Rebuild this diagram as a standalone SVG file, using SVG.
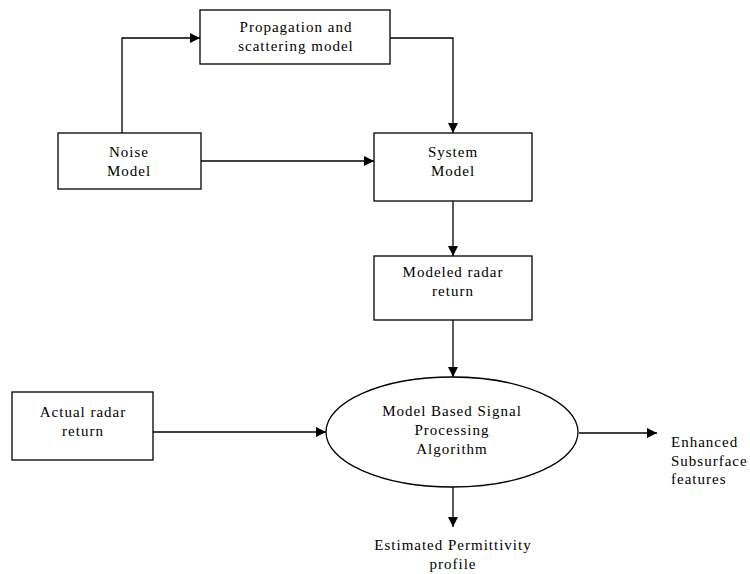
<svg xmlns="http://www.w3.org/2000/svg" width="750" height="574" viewBox="0 0 750 574">
<defs>
<marker id="ah" viewBox="0 0 10 10" refX="10" refY="5" markerWidth="10" markerHeight="10" markerUnits="userSpaceOnUse" orient="auto">
<path d="M0,0 L10,5 L0,10 z" fill="#000"/>
</marker>
<style>
.box{fill:#fff;stroke:#000;stroke-width:1.3}
.t{font-family:'Liberation Serif','DejaVu Serif',serif;font-size:15px;letter-spacing:1px;fill:#000;text-anchor:middle}
.tl{font-family:'Liberation Serif','DejaVu Serif',serif;font-size:15px;letter-spacing:1px;fill:#000}
.c{fill:none;stroke:#000;stroke-width:1.3}
</style>
</defs>
<rect width="750" height="574" fill="#fff"/>
<g id="connectors">
<polyline class="c" points="122,133 122,38 200,38" marker-end="url(#ah)"/>
<polyline class="c" points="390,38 453,38 453,133" marker-end="url(#ah)"/>
<line class="c" x1="201" y1="161" x2="374" y2="161" marker-end="url(#ah)"/>
<line class="c" x1="453" y1="201" x2="453" y2="256" marker-end="url(#ah)"/>
<line class="c" x1="453" y1="320" x2="453" y2="377" marker-end="url(#ah)"/>
<line class="c" x1="153" y1="432" x2="326" y2="432" marker-end="url(#ah)"/>
<line class="c" x1="579" y1="433" x2="657" y2="433" marker-end="url(#ah)"/>
<line class="c" x1="453" y1="487" x2="453" y2="527" marker-end="url(#ah)"/>
</g>
<g id="propagation">
<rect class="box" x="200" y="10" width="190" height="54"/>
<text class="t" x="296" y="32">Propagation and</text>
<text class="t" x="296" y="51">scattering model</text>
</g>
<g id="noise">
<rect class="box" x="58" y="133" width="143" height="56"/>
<text class="t" x="129" y="157">Noise</text>
<text class="t" x="129" y="176">Model</text>
</g>
<g id="system">
<rect class="box" x="374" y="133" width="158" height="68"/>
<text class="t" x="453" y="157">System</text>
<text class="t" x="453" y="176">Model</text>
</g>
<g id="modeled">
<rect class="box" x="374" y="256" width="158" height="64"/>
<text class="t" x="453" y="277">Modeled radar</text>
<text class="t" x="453" y="296">return</text>
</g>
<g id="actual">
<rect class="box" x="12" y="392" width="141" height="68"/>
<text class="t" x="83" y="417">Actual radar</text>
<text class="t" x="83" y="436">return</text>
</g>
<g id="algorithm">
<ellipse class="box" cx="452" cy="432" rx="126" ry="55" stroke-width="1"/>
<text class="t" x="452" y="416">Model Based Signal</text>
<text class="t" x="452" y="435">Processing</text>
<text class="t" x="452" y="454">Algorithm</text>
</g>
<g id="enhanced">
<text class="tl" x="671" y="447">Enhanced</text>
<text class="tl" x="671" y="466">Subsurface</text>
<text class="tl" x="671" y="484">features</text>
</g>
<g id="estimated">
<text class="t" x="453" y="550">Estimated Permittivity</text>
<text class="t" x="453" y="569">profile</text>
</g>
</svg>
